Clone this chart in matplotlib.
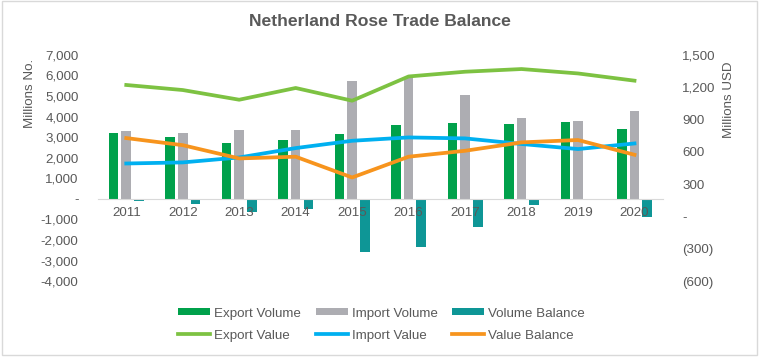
import numpy as np
import matplotlib.pyplot as plt
from matplotlib.patches import Rectangle
from matplotlib.ticker import FixedLocator

plt.rcParams['font.family'] = ['Liberation Sans', 'DejaVu Sans']

years = ["2011", "2012", "2013", "2014", "2015", "2016", "2017", "2018", "2019", "2020"]

# Millions of stems (left axis)
export_volume = [3200, 3000, 2720, 2860, 3140, 3590, 3700, 3640, 3740, 3400]
import_volume = [3300, 3200, 3350, 3350, 5730, 5950, 5050, 3930, 3800, 4270]
volume_balance = [-100, -240, -620, -500, -2590, -2360, -1350, -300, -60, -870]

# Millions USD (right axis)
export_value = [1221, 1174, 1084, 1193, 1075, 1300, 1344, 1369, 1328, 1261]
import_value = [492, 502, 548, 635, 703, 734, 725, 673, 626, 678]
value_balance = [728, 662, 539, 555, 362, 555, 610, 688, 710, 573]

left_ticks = [7000, 6000, 5000, 4000, 3000, 2000, 1000, 0, -1000, -2000, -3000, -4000]
right_ticks = [1500, 1200, 900, 600, 300, 0, -300, -600]

TXT = "#595959"
c_exp_vol = "#00A14B"
c_imp_vol = "#ADADB2"
c_bal_vol = "#0E9696"
c_exp_val = "#7DC242"
c_imp_val = "#00B0F0"
c_bal_val = "#F7941D"

fig = plt.figure(figsize=(7.6, 3.59), dpi=100)
fig.patches.append(Rectangle((0.002, 0.012), 0.994, 0.984, transform=fig.transFigure,
                             fill=False, edgecolor="#D9D9D9", linewidth=1))

ax = fig.add_axes([0.129, 0.217, 0.743, 0.630])
ax2 = ax.twinx()

x = np.arange(len(years))
w = 0.17
off = 0.224
b1 = ax.bar(x - off, export_volume, w, color=c_exp_vol, label="Export Volume")
b2 = ax.bar(x, import_volume, w, color=c_imp_vol, label="Import Volume")
b3 = ax.bar(x + off, volume_balance, w, color=c_bal_vol, label="Volume Balance")

l1, = ax2.plot(x, export_value, color=c_exp_val, lw=2.7, label="Export Value")
l2, = ax2.plot(x, import_value, color=c_imp_val, lw=2.7, label="Import Value")
l3, = ax2.plot(x, value_balance, color=c_bal_val, lw=2.7, label="Value Balance")

ax.set_xlim(-0.5, len(years) - 0.5)
ax.set_ylim(-4000, 7000)
ax2.set_ylim(-600, 1500)

def fmt_left(v):
    return "-" if v == 0 else f"{v:,}"

def fmt_right(v):
    if v == 0:
        return "-"
    if v < 0:
        return f"({-v:,})"
    return f"{v:,}"

ax.yaxis.set_major_locator(FixedLocator(left_ticks))
ax.set_yticklabels([fmt_left(v) for v in left_ticks])
ax2.yaxis.set_major_locator(FixedLocator(right_ticks))
ax2.set_yticklabels([fmt_right(v) for v in right_ticks])

ax.set_xticks(x)
ax.set_xticklabels(years)
ax.spines["bottom"].set_position(("data", 0))
ax.spines["bottom"].set_color("#D9D9D9")
for s in ["top", "left", "right"]:
    ax.spines[s].set_visible(False)
    ax2.spines[s].set_visible(False)
ax2.spines["bottom"].set_visible(False)

fs = 9.6
ax.tick_params(axis="x", length=0, pad=6, labelsize=fs, labelcolor=TXT)
ax.tick_params(axis="y", length=0, pad=14, labelsize=fs, labelcolor=TXT)
ax2.tick_params(axis="y", length=0, pad=14, labelsize=fs, labelcolor=TXT)

ax.set_ylabel("Millions No.", fontsize=fs, color=TXT)
ax.yaxis.set_label_coords(-0.11, 0.83)
ax2.set_ylabel("Millions USD", fontsize=fs, color=TXT)
ax2.yaxis.set_label_coords(1.106, 0.80)

fig.text(0.5, 0.939, "Netherland Rose Trade Balance", ha="center", va="center",
         fontsize=12.6, fontweight="bold", color=TXT)

handles = [b1, l1, b2, l2, b3, l3]
labels = [h.get_label() for h in handles]
leg = fig.legend(handles, labels, ncol=3, loc="center", bbox_to_anchor=(0.502, 0.096),
                 frameon=False, fontsize=fs, handlelength=2.4, handleheight=0.4,
                 columnspacing=1.1, handletextpad=0.3, labelspacing=0.75,
                 labelcolor=TXT)

fig.savefig("out.png", dpi=100)
